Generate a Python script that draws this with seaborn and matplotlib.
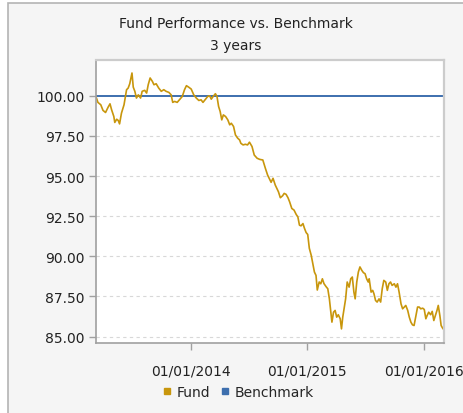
import matplotlib
matplotlib.use('Agg')
import matplotlib.pyplot as plt
import matplotlib.dates as mdates
from matplotlib.lines import Line2D
from matplotlib.patches import Rectangle
import pandas as pd
import seaborn as sns

fund_dates = [
    '2013-03-07', '2013-03-14', '2013-03-23', '2013-03-30', '2013-04-07', '2013-04-15',
    '2013-04-21', '2013-04-26', '2013-05-03', '2013-05-06', '2013-05-12', '2013-05-17',
    '2013-05-21', '2013-05-27', '2013-06-04', '2013-06-12', '2013-06-17', '2013-06-22',
    '2013-06-29', '2013-07-03', '2013-07-08', '2013-07-13', '2013-07-19', '2013-07-26',
    '2013-07-31', '2013-08-08', '2013-08-14', '2013-08-19', '2013-08-25', '2013-09-01',
    '2013-09-06', '2013-09-13', '2013-09-21', '2013-09-29', '2013-10-07', '2013-10-14',
    '2013-10-23', '2013-10-30', '2013-11-04', '2013-11-10', '2013-11-18', '2013-11-25',
    '2013-12-04', '2013-12-11', '2013-12-17', '2013-12-24', '2014-01-01', '2014-01-09',
    '2014-01-17', '2014-01-25', '2014-02-01', '2014-02-07', '2014-02-15', '2014-02-22',
    '2014-02-28', '2014-03-05', '2014-03-11', '2014-03-18', '2014-03-23', '2014-03-28',
    '2014-04-02', '2014-04-07', '2014-04-12', '2014-04-19', '2014-04-26', '2014-05-02',
    '2014-05-07', '2014-05-14', '2014-05-20', '2014-05-27', '2014-06-02', '2014-06-06',
    '2014-06-13', '2014-06-20', '2014-06-27', '2014-07-03', '2014-07-11', '2014-07-18',
    '2014-07-27', '2014-08-04', '2014-08-14', '2014-08-22', '2014-08-29', '2014-09-04',
    '2014-09-09', '2014-09-15', '2014-09-22', '2014-09-27', '2014-10-02', '2014-10-08',
    '2014-10-15', '2014-10-20', '2014-10-26', '2014-11-01', '2014-11-06', '2014-11-13',
    '2014-11-20', '2014-11-27', '2014-12-02', '2014-12-07', '2014-12-12', '2014-12-18',
    '2014-12-23', '2014-12-28', '2015-01-02', '2015-01-07', '2015-01-13', '2015-01-18',
    '2015-01-23', '2015-01-28', '2015-02-01', '2015-02-07', '2015-02-12', '2015-02-17',
    '2015-02-22', '2015-03-01', '2015-03-06', '2015-03-11', '2015-03-15', '2015-03-19',
    '2015-03-24', '2015-03-29', '2015-04-03', '2015-04-08', '2015-04-14', '2015-04-18',
    '2015-04-22', '2015-04-27', '2015-05-01', '2015-05-06', '2015-05-12', '2015-05-17',
    '2015-05-22', '2015-05-27', '2015-05-31', '2015-06-05', '2015-06-10', '2015-06-15',
    '2015-06-21', '2015-06-26', '2015-07-01', '2015-07-06', '2015-07-11', '2015-07-14',
    '2015-07-20', '2015-07-25', '2015-07-29', '2015-08-03', '2015-08-08', '2015-08-14',
    '2015-08-19', '2015-08-24', '2015-08-29', '2015-09-04', '2015-09-09', '2015-09-14',
    '2015-09-19', '2015-09-24', '2015-10-01', '2015-10-06', '2015-10-11', '2015-10-16',
    '2015-10-22', '2015-10-27', '2015-11-01', '2015-11-06', '2015-11-12', '2015-11-17',
    '2015-11-22', '2015-11-27', '2015-12-02', '2015-12-08', '2015-12-13', '2015-12-18',
    '2015-12-23', '2015-12-29', '2016-01-03', '2016-01-08', '2016-01-12', '2016-01-17',
    '2016-01-23', '2016-01-28', '2016-02-02', '2016-02-07', '2016-02-12', '2016-02-16',
    '2016-02-21', '2016-02-25', '2016-03-02',
]
fund_values = [
    100.00, 99.59, 99.44, 99.09, 98.96, 99.29,
    99.50, 99.13, 98.71, 98.34, 98.54, 98.46,
    98.25, 98.92, 99.44, 100.38, 100.48, 100.75,
    101.42, 100.54, 100.28, 99.86, 100.06, 99.86,
    100.28, 100.34, 100.17, 100.69, 101.11, 100.90,
    100.69, 100.75, 100.48, 100.28, 100.38, 100.28,
    100.21, 100.06, 99.59, 99.65, 99.59, 99.75,
    99.96, 100.38, 100.63, 100.54, 100.42, 100.06,
    99.86, 99.71, 99.75, 99.59, 99.79, 99.96,
    100.00, 99.79, 99.96, 100.13, 99.96, 99.34,
    99.02, 98.50, 98.81, 98.71, 98.50, 98.19,
    98.29, 98.09, 97.56, 97.36, 97.25, 97.04,
    96.94, 96.98, 96.94, 97.11, 96.84, 96.31,
    96.11, 96.04, 96.00, 95.48, 95.06, 94.81,
    94.61, 94.86, 94.44, 94.23, 94.02, 93.65,
    93.77, 93.92, 93.86, 93.65, 93.40, 92.98,
    92.88, 92.60, 92.46, 91.94, 91.90, 92.04,
    91.73, 91.48, 91.36, 90.50, 90.06, 89.54,
    89.02, 88.81, 87.90, 88.40, 88.29, 88.60,
    88.30, 88.10, 87.98, 87.35, 86.63, 85.90,
    86.52, 86.63, 86.21, 86.36, 86.11, 85.48,
    86.21, 86.84, 87.35, 88.40, 88.08, 88.60,
    88.71, 87.77, 87.35, 88.40, 89.02, 89.34,
    89.12, 88.98, 88.92, 88.60, 88.40, 88.60,
    87.77, 87.88, 87.67, 87.25, 87.15, 87.35,
    87.15, 87.98, 88.50, 88.40, 87.88, 88.29,
    88.40, 88.19, 88.29, 88.08, 88.29, 87.77,
    87.04, 86.73, 86.84, 86.94, 86.63, 86.21,
    85.90, 85.73, 85.69, 86.31, 86.84, 86.84,
    86.73, 86.77, 86.69, 86.11, 86.31, 86.52,
    86.36, 86.57, 86.00, 86.31, 86.63, 86.94,
    86.31, 85.69, 85.48,
]
bench_dates = ['2013-03-07', '2016-03-05']
bench_values = [100.0, 100.0]

y_ticks = [85.0, 87.5, 90.0, 92.5, 95.0, 97.5, 100.0]
x_ticks = ['2014-01-01', '2015-01-01', '2016-01-01']

fund_color = '#c8960c'
bench_color = '#3d6fae'

fund = pd.DataFrame({'date': pd.to_datetime(fund_dates), 'value': fund_values})
bench = pd.DataFrame({'date': pd.to_datetime(bench_dates), 'value': bench_values})

sns.set_style('white')
plt.rcParams['font.family'] = ['DejaVu Sans']

fig = plt.figure(figsize=(4.63, 4.14), dpi=100, facecolor='white')
fig.patches.append(Rectangle((8 / 463, -0.05), 1.2, 1.05 - 4 / 414,
                             transform=fig.transFigure, facecolor='#f5f5f5',
                             edgecolor='#b4b4b4', linewidth=1.2, zorder=-10))
ax = fig.add_axes([96 / 463, 1 - 344 / 414, 348 / 463, 283 / 414])
ax.set_facecolor('white')

# light dashed grid, the benchmark sits on the 100 line
for y in y_ticks[:-1]:
    ax.axhline(y, color='#d8d8d8', linestyle=(0, (3, 3)), linewidth=0.8, zorder=0)

sns.lineplot(data=bench, x='date', y='value', color=bench_color, linewidth=1.4, ax=ax)
sns.lineplot(data=fund, x='date', y='value', color=fund_color, linewidth=1.2, ax=ax)

ax.set_xlim(pd.Timestamp('2013-03-08'), pd.Timestamp('2016-03-05'))
ax.set_ylim(84.6, 102.23)
ax.set_yticks(y_ticks)
ax.set_yticklabels(['%.2f' % v for v in y_ticks])
ax.set_xticks(pd.to_datetime(x_ticks))
ax.xaxis.set_major_formatter(mdates.DateFormatter('%m/%d/%Y'))
ax.set_xlabel('')
ax.set_ylabel('')
ax.tick_params(axis='both', direction='out', length=5, width=1, color='#a0a0a0',
               labelsize=10, labelcolor='#222222', pad=3, bottom=True, left=True)
ax.tick_params(axis='x', pad=10)

for side in ['left', 'bottom']:
    ax.spines[side].set_color('#a0a0a0')
    ax.spines[side].set_linewidth(1.2)
for side in ['top', 'right']:
    ax.spines[side].set_color('#cccccc')
    ax.spines[side].set_linewidth(1.6)

fig.text(0.51, 1 - 24 / 414, 'Fund Performance vs. Benchmark', ha='center', va='center',
         fontsize=10, color='#222222')
fig.text(0.51, 1 - 46 / 414, '3 years', ha='center', va='center', fontsize=10, color='#222222')

handles = [Line2D([], [], marker='s', linestyle='', color=fund_color, markersize=5),
           Line2D([], [], marker='s', linestyle='', color=bench_color, markersize=5)]
fig.legend(handles, ['Fund', 'Benchmark'], loc='center', bbox_to_anchor=(0.515, 1 - 393 / 414),
           ncol=2, frameon=False, fontsize=10, handlelength=0.6, handletextpad=0.4,
           columnspacing=0.8)

fig.savefig('out.png', dpi=100, facecolor=fig.get_facecolor())
